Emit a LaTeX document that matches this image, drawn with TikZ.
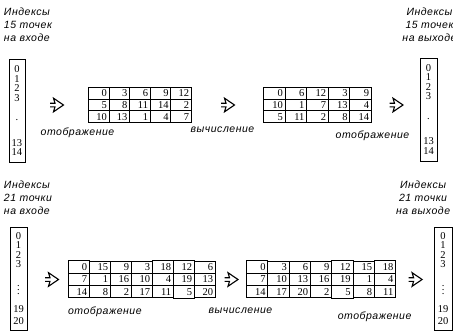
\documentclass[tikz,border=0pt]{standalone}
\usepackage{fontspec}
\setmainfont{Liberation Serif}
\newfontfamily\lblfont{Liberation Sans}[LetterSpace=5]
\usetikzlibrary{positioning, matrix, calc}
\newcommand{\fatarrow}[1]{
  \draw[line width=1.1pt, line join=miter]
    ($(#1)+(-6.5pt,1.8pt)$) -- ($(#1)+(-1.5pt,1.8pt)$) -- ($(#1)+(-3pt,6.8pt)$)
    -- ($(#1)+(7pt,0pt)$)
    -- ($(#1)+(-3pt,-6.8pt)$) -- ($(#1)+(-1.5pt,-1.8pt)$) -- ($(#1)+(-6.5pt,-1.8pt)$);
}

\begin{document}
\begin{tikzpicture}[
    line width=1pt,
    num/.style={font=\fontsize{10.5}{9.5}\selectfont},
    lbl/.style={font=\lblfont\itshape\fontsize{10.5}{13}\selectfont, inner sep=0pt},
    cell/.style={draw, num, text width=16pt, align=right, minimum height=11.7pt, inner xsep=2.3pt, inner ysep=0pt},
    grid/.style={matrix of nodes, nodes={cell}, column sep=-\pgflinewidth, row sep=-\pgflinewidth, inner sep=0pt},
    idx/.style={draw, num, minimum width=16pt, minimum height=103pt, inner sep=0pt, align=center},
]
\useasboundingbox (0,0) rectangle (453pt,-332pt);

% ------------------------------------------------------------ 15 points ---
\node[idx] (in15) at (17pt,-111pt) {0\\1\\2\\3\\[10pt].\\[16pt]13\\14};
\node[lbl, align=left, above right=17pt and -5pt of in15.north west] (in15lbl) {Индексы\\15 точек\\на входе};

\matrix[grid, right=62pt of in15, yshift=6pt] (m1) {
  0 & 3 & 6 & 9 & 12 \\
  5 & 8 & 11 & 14 & 2 \\
  10 & 13 & 1 & 4 & 7 \\
};
\matrix[grid, right=70pt of m1, nodes={cell, text width=17pt}] (m2) {
  0 & 6 & 12 & 3 & 9 \\
  10 & 1 & 7 & 13 & 4 \\
  5 & 11 & 2 & 8 & 14 \\
};
\node[idx, minimum width=17pt, right=47pt of m2, yshift=-4.5pt] (out15) {0\\1\\2\\3\\[10pt].\\[16pt]13\\14};
\node[lbl, align=center, above=15pt of out15, xshift=1pt] (out15lbl) {Индексы\\15 точек\\на выходе};

\coordinate (a1) at ($(in15.east |- m1.west)!0.5!(m1.west)$);
\coordinate (a2) at ($(m1.east)!0.5!(m2.west)$);
\coordinate (a3) at ($(m2.east)!0.5!(out15.west |- m2.east)$);
\fatarrow{a1}
\fatarrow{a2}
\fatarrow{a3}

\node[lbl, below=4pt of m1.south west, xshift=-10pt] (map1) {отображение};
\node[lbl, below=21pt of a2, xshift=-5pt] (calc1) {вычисление};
\node[lbl, below=7pt of m2.south east] (map2) {отображение};

% ------------------------------------------------------------ 21 points ---
\node[idx, minimum width=17pt] (in21) at (18.5pt,-278.5pt) {0\\1\\2\\3\\[11pt]$\vdots$\\[8pt]19\\[3pt]20};
\node[lbl, align=left, above right=11pt and -6pt of in21.north west] (in21lbl) {Индексы\\21 точки\\на входе};

\matrix[grid, right=40pt of in21, yshift=-1pt, nodes={cell, text width=16.4pt, minimum height=12.3pt}] (m3) {
  0 & 15 & 9 & 3 & 18 & 12 & 6 \\
  7 & 1 & 16 & 10 & 4 & 19 & 13 \\
  14 & 8 & 2 & 17 & 11 & 5 & 20 \\
};
\matrix[grid, right=29pt of m3, nodes={cell, text width=16.7pt, minimum height=12.3pt}] (m4) {
  0 & 3 & 6 & 9 & 12 & 15 & 18 \\
  7 & 10 & 13 & 16 & 19 & 1 & 4 \\
  14 & 17 & 20 & 2 & 5 & 8 & 11 \\
};
\node[idx, minimum width=18pt, right=37pt of m4, yshift=1pt] (out21) {0\\1\\2\\3\\[11pt]$\vdots$\\[8pt]19\\[3pt]20};
\node[lbl, align=center, above=11pt of out21, xshift=-20pt] (out21lbl) {Индексы\\21 точки\\на выходе};

\coordinate (a4) at ($(in21.east |- m3.west)!0.6!(m3.west)$);
\coordinate (a5) at ($(m3.east)!0.5!(m4.west)$);
\coordinate (a6) at ($(m4.east)!0.5!(out21.west |- m4.east)$);
\fatarrow{a4}
\fatarrow{a5}
\fatarrow{a6}

\node[lbl, below right=7pt and 0pt of m3.south west] (map3) {отображение};
\node[lbl, below=8pt of m4.south west, xshift=-5pt] (calc2) {вычисление};
\node[lbl, below=12pt of m4.south east, xshift=-22pt] (map4) {отображение};

\end{tikzpicture}
\end{document}
